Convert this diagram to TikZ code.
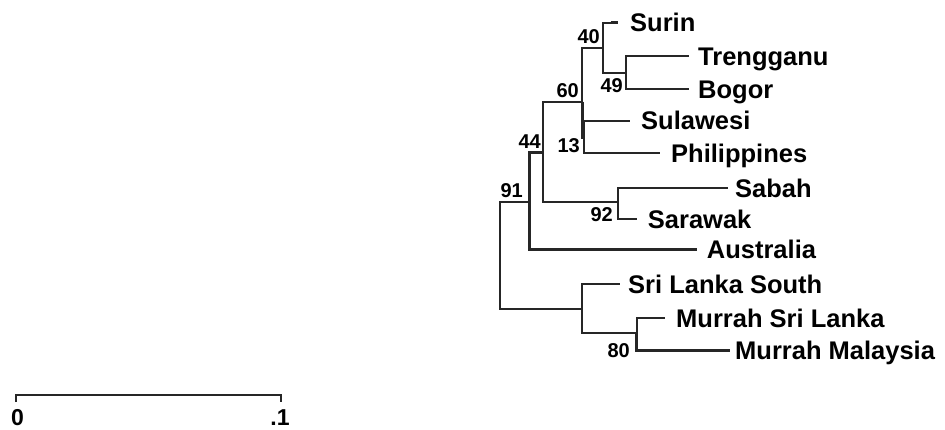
\documentclass[tikz,border=0pt]{standalone}
\usepackage{fontspec}
\setmainfont{Liberation Sans}
\begin{document}
\begin{tikzpicture}[x=1pt,y=-1pt,
  branch/.style={draw=black!85,line width=1.8pt},
  heavy/.style={draw=black!85,line width=3pt},
  taxon/.style={anchor=base west,inner sep=0pt,font=\fontsize{25.5}{25.5}\selectfont\bfseries},
  boot/.style={inner sep=0pt,font=\fontsize{20}{20}\selectfont\bfseries},
  tick/.style={inner sep=0pt,font=\fontsize{23}{23}\selectfont\bfseries}]
\useasboundingbox (0,0) rectangle (945,429);
% internal nodes (vertical position of the stem)
\coordinate (root) at (500,255);
\coordinate (n91) at (529,201.7);
\coordinate (n44) at (543.3,152.7);
\coordinate (n60) at (582,101.7);
\coordinate (n40) at (602.7,47.7);
\coordinate (n49) at (625.7,72.7);
\coordinate (n13) at (584,137);
\coordinate (n92) at (618.3,201.7);
\coordinate (nSL) at (581.7,309.3);
\coordinate (n80) at (636.7,332.7);
% leaf tips
\coordinate (tSurin) at (618,22.7);
\coordinate (tTreng) at (689,56);
\coordinate (tBogor) at (689,89.3);
\coordinate (tSulaw) at (630,120.7);
\coordinate (tPhil) at (660,153.3);
\coordinate (tSabah) at (728,188.3);
\coordinate (tSaraw) at (636.7,219.3);
\coordinate (tAustr) at (696.7,249);
\coordinate (tSLS) at (620,284);
\coordinate (tMSL) at (665,318.3);
\coordinate (tMM) at (730,350);
% branches
\draw[branch] (root) |- (n91);
\draw[branch] (root) |- (nSL);
\draw[heavy] (n91) |- (n44);
\draw[heavy] (n91) |- (tAustr);
\draw[branch] (n44) |- (n60);
\draw[branch] (n44) |- (n92);
\draw[branch] (n60) |- (n40);
\draw[heavy] (n60) |- (n13);
\draw[branch] (n40) |- (tSurin);
\draw[heavy] (n40|-tSurin) ++(8,0) -- (tSurin);
\draw[branch] (n40) |- (n49);
\draw[branch] (n49) |- (tTreng);
\draw[branch] (n49) |- (tBogor);
\draw[branch] (n13) |- (tSulaw);
\draw[branch] (n13) |- (tPhil);
\draw[branch] (n92) |- (tSabah);
\draw[branch] (n92) |- (tSaraw);
\draw[branch] (nSL) |- (tSLS);
\draw[branch] (nSL) |- (n80);
\draw[branch] (n80) |- (tMSL);
\draw[heavy] (n80) |- (tMM);
% taxon names
\node[taxon] (lSurin) at ([xshift=12,yshift=-9]tSurin) {Surin};
\node[taxon] (lTreng) at ([xshift=9,yshift=-9]tTreng) {Trengganu};
\node[taxon] (lBogor) at ([xshift=9,yshift=-9]tBogor) {Bogor};
\node[taxon] (lSulaw) at ([xshift=11,yshift=-9]tSulaw) {Sulawesi};
\node[taxon] (lPhil) at ([xshift=11,yshift=-9]tPhil) {Philippines};
\node[taxon] (lSabah) at ([xshift=7,yshift=-9]tSabah) {Sabah};
\node[taxon] (lSaraw) at ([xshift=11,yshift=-9]tSaraw) {Sarawak};
\node[taxon] (lAustr) at ([xshift=10,yshift=-9]tAustr) {Australia};
\node[taxon] (lSLS) at ([xshift=8,yshift=-9]tSLS) {Sri Lanka South};
\node[taxon] (lMSL) at ([xshift=11,yshift=-9]tMSL) {Murrah Sri Lanka};
\node[taxon] (lMM) at ([xshift=5,yshift=-9]tMM) {Murrah Malaysia};
% bootstrap values
\node[boot,anchor=south east] (b40) at (600,44) {40};
\node[boot,anchor=north east] (b49) at (623,78) {49};
\node[boot,anchor=south east] (b60) at (579,98) {60};
\node[boot,anchor=east] (b13) at (580,146) {13};
\node[boot,anchor=south east] (b44) at (541,149) {44};
\node[boot,anchor=south east] (b91) at (523,198) {91};
\node[boot,anchor=east] (b92) at (613,215) {92};
\node[boot,anchor=east] (b80) at (630,351) {80};
% scale bar
\coordinate (s0) at (16,395);
\coordinate (s1) at (281,395);
\draw[branch] ([yshift=-7]s0) -- (s0) -- (s1) -- ([yshift=-7]s1);
\node[tick] (z0) at (17.5,418) {0};
\node[tick] (z1) at (280,418) {.1};
\end{tikzpicture}
\end{document}
